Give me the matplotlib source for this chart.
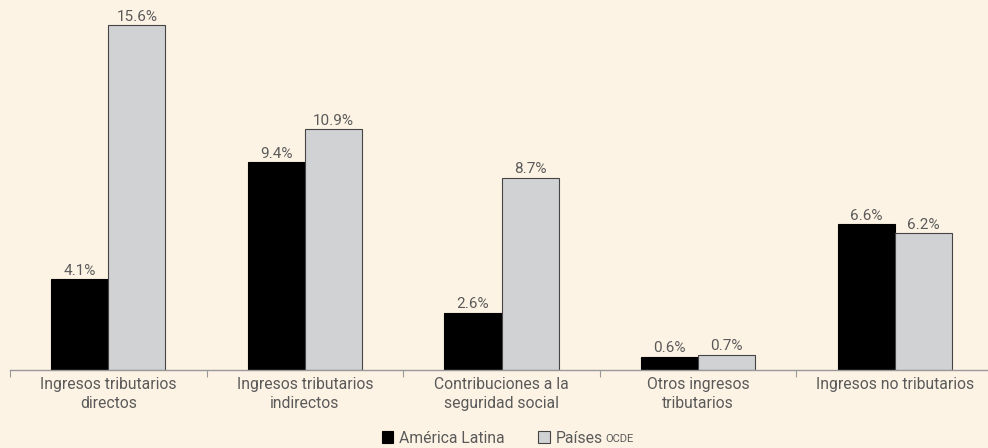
import matplotlib
matplotlib.use("Agg")
import matplotlib.pyplot as plt
import numpy as np

# Datos
categorias = ["Ingresos tributarios\ndirectos", "Ingresos tributarios\nindirectos",
              "Contribuciones a la\nseguridad social", "Otros ingresos\ntributarios",
              "Ingresos no tributarios"]
america_latina = [4.1, 9.4, 2.6, 0.6, 6.6]
ocde = [15.6, 10.9, 8.7, 0.7, 6.2]

FONDO = "#fdf3e4"
GRIS = "#d1d2d4"
TEXTO = "#5a5a5a"

plt.rcParams["font.family"] = ["Roboto", "DejaVu Sans"]

fig = plt.figure(figsize=(9.88, 4.48), dpi=100, facecolor=FONDO)
# eje: de x=10 px a ~993 px, base en y=370 px
ax = fig.add_axes([10 / 988, 78 / 448, 983 / 988, 370 / 448])
ax.set_facecolor(FONDO)

x = np.arange(len(categorias))
ancho = 0.29
b1 = ax.bar(x - ancho / 2, america_latina, ancho, color="black", edgecolor="black",
            linewidth=0.8, label="América Latina")
b2 = ax.bar(x + ancho / 2, ocde, ancho, color=GRIS, edgecolor="#444444",
            linewidth=0.8, label="Países")

for barras, vals in ((b1, america_latina), (b2, ocde)):
    for b, v in zip(barras, vals):
        ax.annotate(f"{v}%", (b.get_x() + b.get_width() / 2, v), xytext=(0, 1),
                    textcoords="offset points", ha="center", va="bottom",
                    fontsize=11, color=TEXTO)

ax.set_xlim(-0.5, len(categorias) - 0.5)
ax.set_ylim(0, 370 / 22.1)

for s in ["top", "right", "left"]:
    ax.spines[s].set_visible(False)
ax.spines["bottom"].set_color("#999999")
ax.spines["bottom"].set_linewidth(1)
ax.set_yticks([])

# marcas entre categorías
ax.set_xticks(np.arange(len(categorias)) - 0.5)
ax.set_xticklabels([])
ax.tick_params(axis="x", length=5, color="#999999", direction="out")
ax.set_xticks(x, minor=True)
ax.set_xticklabels(categorias, minor=True, fontsize=11.3, color=TEXTO, linespacing=1.3)
ax.tick_params(axis="x", which="minor", length=0, pad=5)

leg = fig.legend(loc="center", bbox_to_anchor=(0.498, 10 / 448), ncol=2, frameon=False,
                 fontsize=11.3, handlelength=0.75, handleheight=0.75, handletextpad=0.35,
                 columnspacing=2.15, labelcolor=TEXTO)

fig.canvas.draw()
bb = leg.get_texts()[1].get_window_extent()
fig.text((bb.x1 + 3) / 988, bb.y0 / 448 + 0.003, "OCDE", fontsize=8, color=TEXTO,
         ha="left", va="bottom")

fig.savefig("out.png", dpi=100, facecolor=FONDO)
